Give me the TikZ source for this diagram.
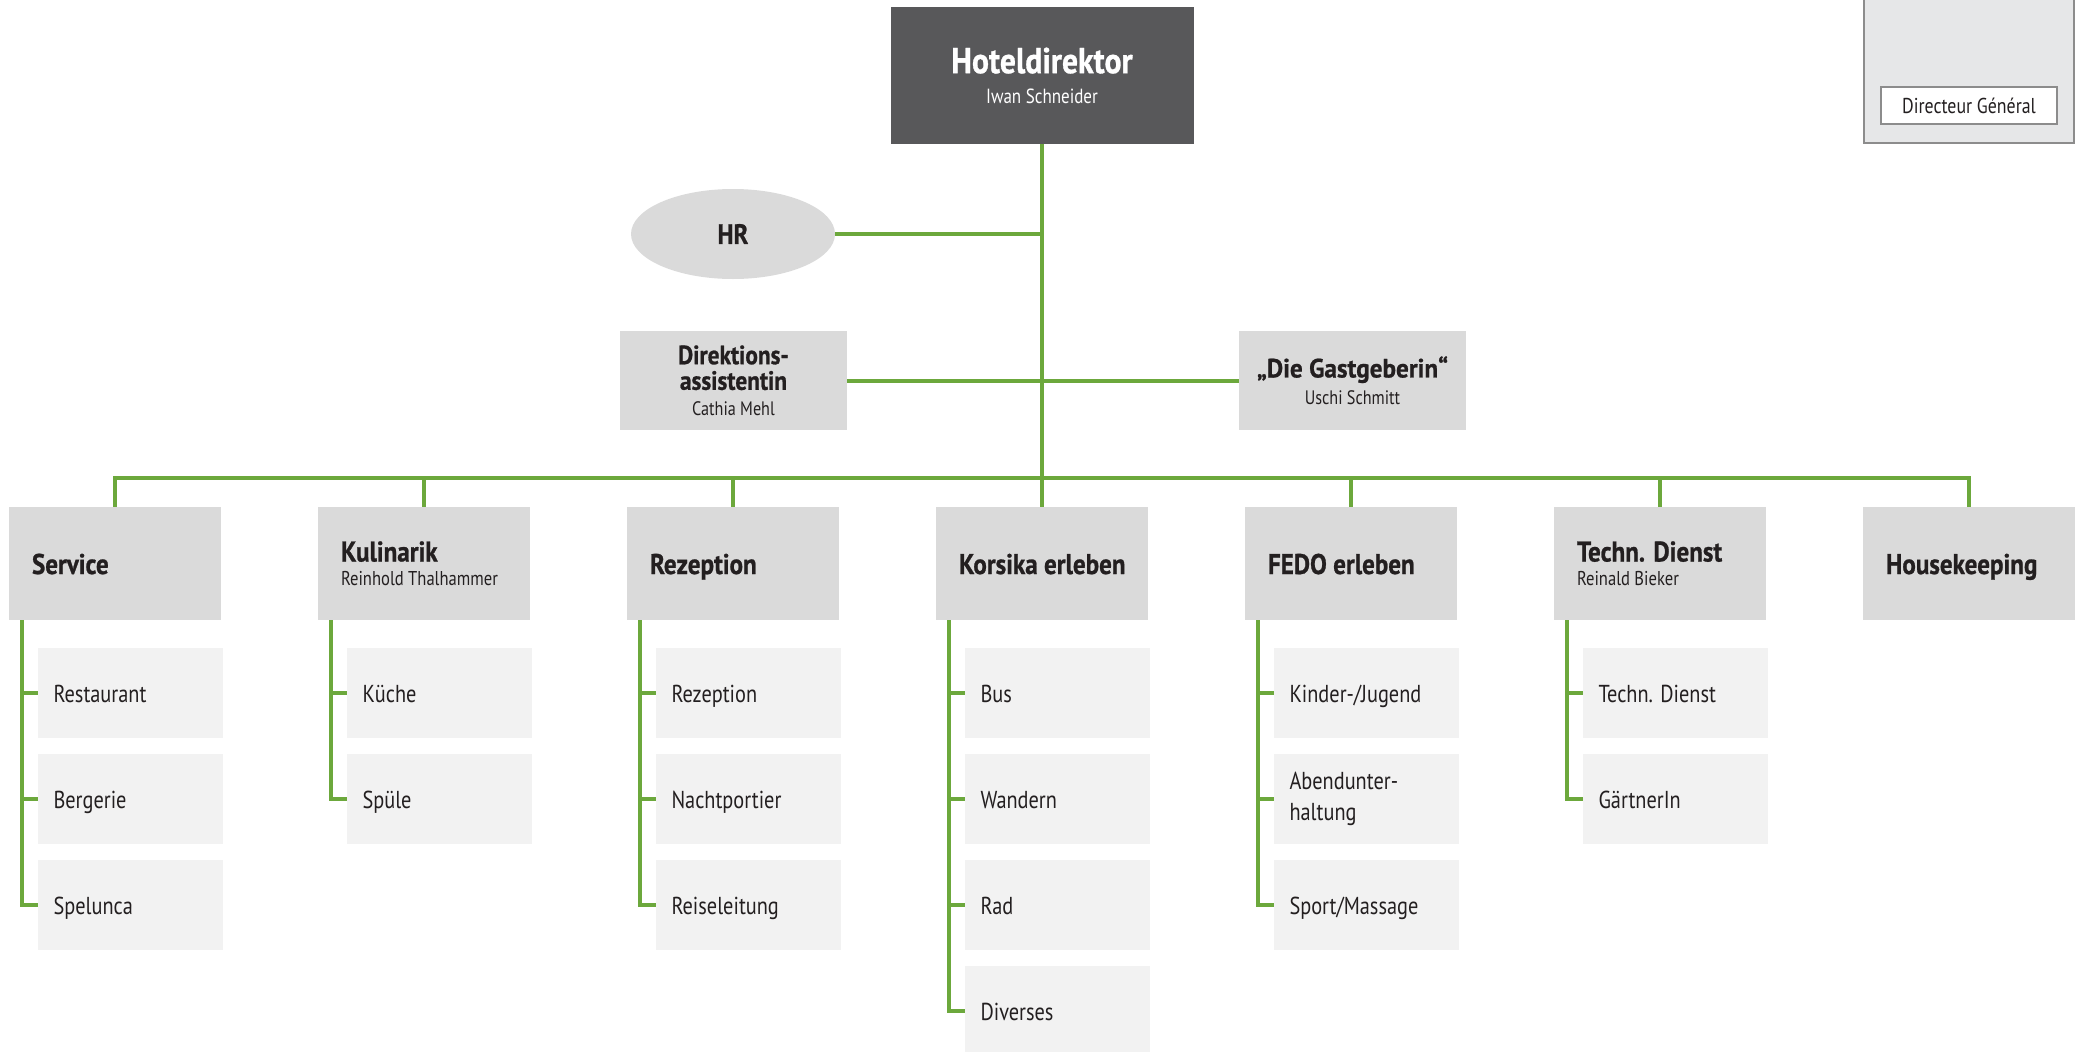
\documentclass[tikz,border=0pt]{standalone}
\usepackage{fontspec}
\setmainfont{PT Sans}[FakeStretch=0.83]
\newfontfamily\bfam{PT Sans}[FakeStretch=0.88, BoldFeatures={FakeBold=0.8}]
\newfontfamily\bfamw{PT Sans}[FakeStretch=0.95, BoldFeatures={FakeBold=0.8}]
\usetikzlibrary{shapes.geometric,calc}
\definecolor{lgreen}{RGB}{108,168,60}
\definecolor{headgray}{RGB}{88,88,90}
\definecolor{deptgray}{RGB}{218,218,218}
\definecolor{subgray}{RGB}{242,242,242}
\definecolor{txt}{RGB}{35,31,32}
\definecolor{dgfill}{RGB}{230,231,232}
\definecolor{dgline}{RGB}{140,140,140}
\newcommand\ftitle{\bfam\bfseries\fontsize{28.5}{24}\selectfont}
\newcommand\fdir{\bfam\bfseries\fontsize{26.5}{25.6}\selectfont}
% department with a single-line title
\newcommand\mkdeptone[3]{%
  \node[deptbox] (#1) at (#2,563.5) {};
  \node[depttext, anchor=base west] (#1t) at ($(#1.west)+(23,10.5)$) {{\ftitle #3}};
}
% department with title and name
\newcommand\mkdepttwo[4]{%
  \node[deptbox] (#1) at (#2,563.5) {};
  \node[depttext, anchor=west] (#1t) at ($(#1.west)+(23,0)$) {{\ftitle #3}\\#4};
}
\newcommand\mksub[4]{%
  \node[subbox] (#1) at ({#2+15.5},{693+106*#3}) {};
  \node[subtext, anchor=base west] (#1t) at ($(#1.west)+(15.5,9)$) {#4};
}
\newcommand\mksubtwo[4]{%
  \node[subbox] (#1) at ({#2+15.5},{693+106*#3}) {};
  \node[subtext, anchor=west] (#1t) at ($(#1.west)+(15.5,0)$) {#4};
}
\tikzset{
  conn/.style={draw=lgreen, line width=4pt},
  deptbox/.style={fill=deptgray, minimum width=212pt, minimum height=113pt, inner sep=0pt},
  subbox/.style={fill=subgray, minimum width=185pt, minimum height=90pt, inner sep=0pt},
  depttext/.style={align=left, inner sep=0pt, text=txt, font=\fontsize{20}{24}\selectfont},
  subtext/.style={align=left, inner sep=0pt, text=txt, font=\fontsize{24.5}{31}\selectfont},
}
\begin{document}
\begin{tikzpicture}[x=1pt,y=-1pt]
\useasboundingbox (0,0) rectangle (2080,1052);
% top right legend box
\node[fill=dgfill, draw=dgline, line width=1.3pt, minimum width=210pt, minimum height=150pt, inner sep=0pt] (dgbox) at (1969,68) {};
\node[fill=white, draw=dgline, line width=1.3pt, minimum width=176pt, minimum height=37pt, inner sep=0pt, text=txt, font=\fontsize{21.5}{24}\selectfont] (dgname) at (1969,105.5) {Directeur Général};
% head
\node[fill=headgray, minimum width=303pt, minimum height=137pt, inner sep=0pt, text=white, align=center, font=\fontsize{20.5}{30}\selectfont] (head) at (1042,75.5) {{\bfam\bfseries\fontsize{36}{30}\selectfont Hoteldirektor}\\Iwan Schneider};
% HR
\node[ellipse, fill=deptgray, minimum width=204pt, minimum height=90pt, inner sep=0pt, text=txt, font=\bfam\bfseries\fontsize{28}{28}\selectfont] (hr) at (733,234) {HR};
% staff
\node[fill=deptgray, minimum width=227pt, minimum height=99pt, inner sep=0pt, align=center, text=txt, font=\fontsize{19.5}{25.6}\selectfont] (dir) at (733.5,380.5) {{\fdir Direktions-}\\{\fdir assistentin}\\Cathia Mehl};
\node[fill=deptgray, minimum width=227pt, minimum height=99pt, inner sep=0pt, align=center, text=txt, font=\fontsize{19.5}{27}\selectfont] (gast) at (1352.5,380.5) {{\bfamw\bfseries\fontsize{26.5}{27}\selectfont „Die Gastgeberin“}\\Uschi Schmitt};
% departments
\mkdeptone{d1}{115}{Service}
\mkdepttwo{d2}{424}{Kulinarik}{Reinhold Thalhammer}
\mkdeptone{d3}{733}{Rezeption}
\mkdeptone{d4}{1042}{Korsika erleben}
\mkdeptone{d5}{1351}{FEDO erleben}
\mkdepttwo{d6}{1660}{Techn. Dienst}{Reinald Bieker}
\mkdeptone{d7}{1969}{Housekeeping}
% sub units
\mksub{s11}{115}{0}{Restaurant}
\mksub{s12}{115}{1}{Bergerie}
\mksub{s13}{115}{2}{Spelunca}
\mksub{s21}{424}{0}{Küche}
\mksub{s22}{424}{1}{Spüle}
\mksub{s31}{733}{0}{Rezeption}
\mksub{s32}{733}{1}{Nachtportier}
\mksub{s33}{733}{2}{Reiseleitung}
\mksub{s41}{1042}{0}{Bus}
\mksub{s42}{1042}{1}{Wandern}
\mksub{s43}{1042}{2}{Rad}
\mksub{s44}{1042}{3}{Diverses}
\mksub{s51}{1351}{0}{Kinder-/Jugend}
\mksubtwo{s52}{1351}{1}{Abendunter-\\haltung}
\mksub{s53}{1351}{2}{Sport/Massage}
\mksub{s61}{1660}{0}{Techn. Dienst}
\mksub{s62}{1660}{1}{GärtnerIn}
% connectors
\coordinate (bus) at (1042,478);
\draw[conn] (head.south) -- (bus);
\draw[conn] (hr.east) -- (hr.east -| head.south);
\draw[conn] (dir.east) -- (gast.west);
\draw[conn] (d1.north) |- (bus) -| (d7.north);
\foreach \d in {d2,d3,d4,d5,d6} {\draw[conn] (\d.north) -- (\d.north |- bus);}
\foreach \d in {d1,d2,d3,d4,d5,d6} {\coordinate (\d v) at ([xshift=13.5pt]\d.south west);}
\draw[conn] (d1v) |- (s13.west);
\draw[conn] (d2v) |- (s22.west);
\draw[conn] (d3v) |- (s33.west);
\draw[conn] (d4v) |- (s44.west);
\draw[conn] (d5v) |- (s53.west);
\draw[conn] (d6v) |- (s62.west);
\foreach \s/\d in {s11/d1,s12/d1,s21/d2,s31/d3,s32/d3,s41/d4,s42/d4,s43/d4,s51/d5,s52/d5,s61/d6}
  {\draw[conn] (\s.west) -- (\s.west -| \d v);}
\end{tikzpicture}
\end{document}
